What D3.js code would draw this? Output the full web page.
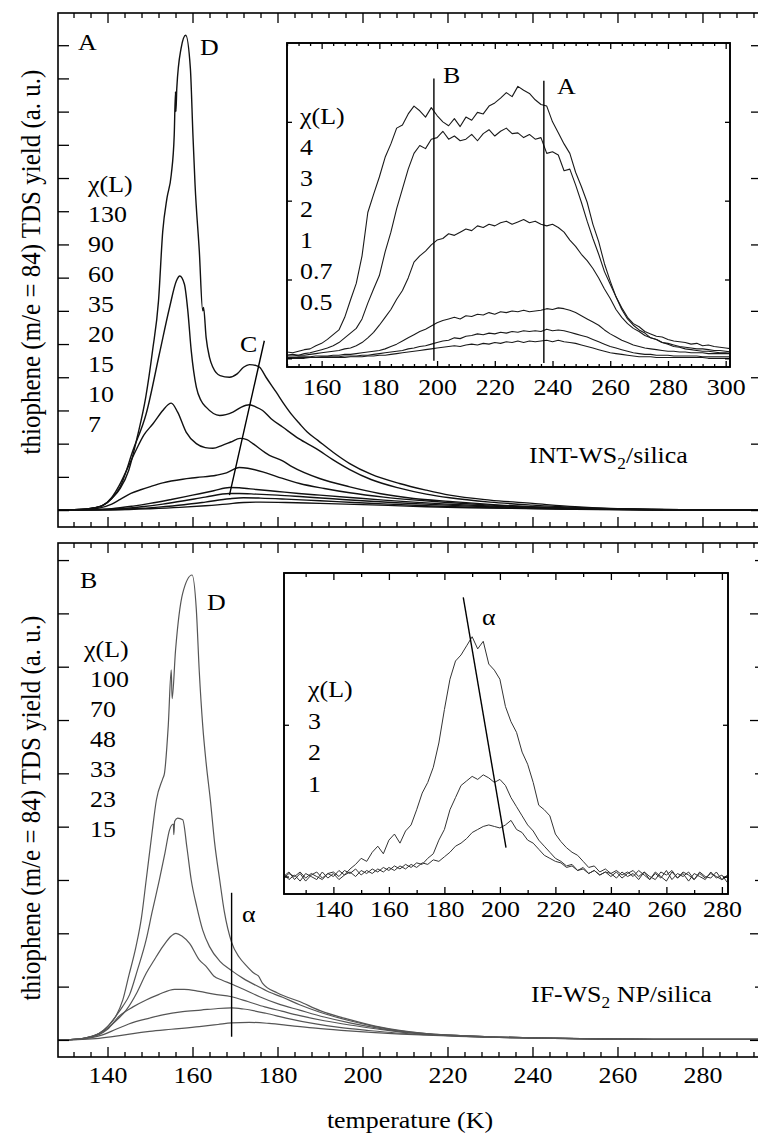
<!DOCTYPE html>
<meta charset="utf-8">
<script src="https://d3js.org/d3.v7.min.js"></script>
<style>body{margin:0;background:#fff}</style>
<div id="chart"></div>
<script>

// ---- data: main panel A (INT-WS2/silica), [temperature K, yield in tick units]
var expA = ["130", "90", "60", "35", "20", "15", "10", "7"];
var a130 = [[128.3,0],[132,0.01],[136,0.05],[139,0.15],[141,0.35],[143,0.65],[145,1.2],[147,2.2],[149,3.4],[150.6,4.8],[152,6.3],[153,8.4],[154,9.4],[155,10.1],[155.7,11.3],[156,12.6],[156.1,12.0],[156.3,12.7],[157.3,13.9],[158.4,14.3],[159.5,13.3],[160.1,11.3],[160.6,9.8],[161.6,7.8],[162.4,6.0],[162.6,6.1],[163.2,5.2],[164,4.6],[164.8,4.3],[166.5,4.05],[168.7,4.0],[170.5,4.1],[172,4.3],[173.4,4.38],[175,4.35],[175.8,4.3],[177.3,4.0],[179.7,3.55],[181.5,3.2],[183.5,2.85],[185.2,2.6],[187,2.35],[189.5,2.1],[193,1.75],[197,1.4],[202,1.08],[208.7,0.8],[215,0.6],[220.5,0.45],[230,0.3],[240,0.2],[250,0.1],[260,0.04],[275,0.01],[293.3,0.01]];
var a90 = [[128.3,0],[132,0.01],[136,0.05],[139,0.15],[141,0.35],[143,0.7],[146,1.8],[149.1,2.9],[152.2,4.7],[154.6,6.1],[156.2,6.9],[157,7.05],[158.1,6.8],[158.9,6.0],[159.7,4.8],[160.9,3.7],[162,3.3],[163.2,3.1],[166.4,2.85],[169.5,2.95],[171.5,3.1],[173.4,3.17],[175,3.1],[176.5,3.0],[178.5,2.75],[181.2,2.5],[185,2.15],[189.1,1.85],[193,1.52],[197,1.22],[202,0.92],[208.7,0.66],[215,0.48],[220.5,0.37],[230,0.24],[240,0.15],[250,0.08],[260,0.035],[275,0.01],[293.3,0.01]];
var a60 = [[128.3,0],[132,0.01],[136,0.05],[139,0.15],[141,0.38],[142.8,0.75],[144.5,1.2],[146.7,1.8],[148.5,2.25],[150.7,2.6],[153,3.0],[154.3,3.18],[155,3.22],[156.5,2.95],[158.5,2.35],[160.9,2.0],[163,1.88],[164.8,1.86],[167,1.95],[169,2.05],[171.2,2.16],[172.8,2.12],[174.2,2.0],[178.1,1.65],[181.2,1.48],[183.5,1.3],[189.9,0.95],[197,0.7],[204,0.5],[212,0.35],[220.5,0.26],[230,0.17],[240,0.1],[250,0.06],[260,0.03],[275,0.01],[293.3,0.01]];
var a35 = [[128.3,0],[134,0.01],[138,0.06],[141,0.18],[143,0.32],[145.5,0.5],[148,0.62],[149.9,0.7],[153,0.82],[157.7,0.93],[161,0.98],[165.6,1.05],[168,1.12],[171,1.28],[173,1.26],[177.3,1.12],[181,0.96],[185.2,0.8],[191,0.65],[197,0.52],[205,0.39],[212.6,0.3],[220,0.23],[230,0.15],[240,0.09],[250,0.05],[260,0.03],[275,0.01],[293.3,0.01]];
var a20 = [[128.3,0],[136,0.01],[141,0.04],[146,0.12],[150,0.2],[155,0.32],[160,0.45],[165,0.58],[168.7,0.68],[171,0.67],[175,0.62],[180,0.56],[185,0.5],[190,0.45],[197,0.38],[205,0.3],[212,0.24],[220,0.18],[230,0.12],[240,0.07],[250,0.04],[260,0.02],[275,0.01],[293.3,0.01]];
var a15 = [[128.3,0],[138,0.01],[143,0.04],[148,0.1],[153,0.18],[158,0.28],[163,0.39],[168.7,0.5],[171,0.5],[175,0.48],[180,0.45],[186,0.4],[193,0.34],[200,0.28],[208,0.22],[216,0.17],[225,0.12],[235,0.08],[245,0.05],[255,0.03],[270,0.01],[293.3,0.01]];
var a10 = [[128.3,0],[140,0.01],[146,0.04],[152,0.09],[158,0.16],[163,0.24],[168.7,0.34],[172,0.37],[176,0.36],[182,0.33],[190,0.28],[198,0.23],[206,0.18],[215,0.13],[225,0.09],[235,0.06],[245,0.04],[255,0.02],[270,0.01],[293.3,0.01]];
var a7 = [[128.3,0],[142,0.01],[150,0.04],[157,0.08],[163,0.13],[168,0.18],[172,0.23],[176,0.24],[182,0.23],[190,0.2],[198,0.17],[206,0.14],[215,0.1],[225,0.07],[235,0.05],[245,0.03],[258,0.015],[275,0.01],[293.3,0.01]];
var lineC = [[168.7,0.45],[176.9,5.1]];

// ---- data: main panel B (IF-WS2 NP/silica)
var expB = ["100", "70", "48", "33", "23", "15"];
var b100 = [[128.3,0],[132,0.01],[135,0.04],[138,0.12],[140,0.25],[142,0.45],[143.6,0.75],[145,1.2],[146.7,1.75],[148,2.3],[149.1,3.0],[150.5,3.9],[151.5,4.5],[153,4.9],[153.4,5.0],[154.3,5.9],[155,6.94],[155.2,6.4],[156,7.3],[157.7,8.38],[159.9,8.72],[160.9,8.07],[161.6,6.9],[162.4,5.9],[163.2,5.2],[164.2,4.5],[165.2,3.7],[166.4,3.0],[167.5,2.4],[169.2,1.83],[171,1.55],[172.6,1.4],[174.5,1.25],[175.5,1.2],[176.5,1.06],[180,0.88],[185.2,0.72],[190,0.55],[197,0.38],[203,0.26],[208.7,0.18],[215,0.12],[220.5,0.09],[230,0.06],[240,0.04],[255,0.02],[270,0.01],[293.3,0.01]];
var b70 = [[128.3,0],[132,0.01],[135,0.04],[138,0.12],[140,0.25],[142,0.45],[143.5,0.62],[145.2,0.85],[147,1.3],[149.1,1.88],[150.5,2.4],[152.2,3.0],[153.5,3.5],[154.6,3.94],[155.5,4.05],[155.6,3.85],[155.8,4.1],[156.5,4.16],[157.7,4.13],[158.7,3.6],[159.7,3.0],[161,2.5],[162.4,2.06],[164,1.75],[166.4,1.48],[169.2,1.3],[172,1.15],[175,1.02],[178,0.9],[181.2,0.8],[185.2,0.66],[190,0.52],[197,0.36],[203,0.25],[208.7,0.17],[215,0.12],[220.5,0.09],[230,0.06],[240,0.04],[255,0.02],[270,0.01],[293.3,0.01]];
var b48 = [[128.3,0],[132,0.01],[135,0.04],[138,0.12],[140,0.22],[142,0.36],[144.4,0.56],[147,0.9],[149.1,1.25],[151,1.5],[153,1.75],[155,1.95],[156.1,2.0],[157.5,1.95],[159.3,1.81],[161.6,1.5],[163.2,1.38],[165,1.2],[167,1.12],[169.2,1.05],[172,0.95],[175.8,0.81],[180,0.68],[185.2,0.56],[191,0.43],[197,0.32],[203,0.23],[208.7,0.16],[215,0.11],[220.5,0.09],[230,0.06],[240,0.04],[255,0.02],[270,0.01],[293.3,0.01]];
var b33 = [[128.3,0],[132,0.01],[135,0.04],[138,0.1],[140,0.2],[142.8,0.45],[146,0.62],[149.1,0.75],[152,0.85],[155.8,0.95],[158,0.95],[161.6,0.91],[165,0.86],[169.2,0.81],[173,0.72],[177,0.62],[181,0.54],[185,0.46],[191,0.36],[197,0.28],[203,0.21],[208.7,0.15],[215,0.11],[220.5,0.08],[230,0.05],[240,0.035],[255,0.02],[270,0.01],[293.3,0.01]];
var b23 = [[128.3,0],[133,0.01],[136,0.04],[139,0.1],[142,0.2],[145,0.3],[149.9,0.41],[153,0.47],[157.7,0.53],[162,0.56],[166,0.59],[169.2,0.6],[172,0.58],[177.3,0.5],[182,0.41],[189,0.3],[195,0.23],[201,0.18],[208,0.13],[215,0.1],[220.5,0.08],[230,0.05],[240,0.035],[255,0.02],[270,0.01],[293.3,0.01]];
var b15 = [[128.3,0],[134,0.01],[138,0.03],[142,0.07],[146,0.12],[149.9,0.16],[155,0.2],[161.6,0.25],[166,0.29],[169.2,0.32],[173.4,0.33],[178,0.31],[183,0.27],[189,0.22],[195,0.18],[202,0.14],[209,0.11],[215,0.09],[222,0.07],[230,0.05],[240,0.035],[255,0.02],[270,0.01],[293.3,0.01]];
var lineAlpha = [[169.2,2.76],[169.2,0.06]];

// ---- data: inset of panel A
var expIA = ["4", "3", "2", "1", "0.7", "0.5"];
var insetAT = [148,150,152,154,156,158,160,162,164,166,168,170,172,174,176,178,180,182,184,186,188,190,192,194,196,198,200,202,204,206,208,210,212,214,216,218,220,222,224,226,228,230,232,234,236,238,240,242,244,246,248,250,252,254,256,258,260,262,264,266,268,270,272,274,276,278,280,282,284,286,288,290,292,294,296,298,300,302];
var ia4 = [0.08,0.07,0.09,0.11,0.12,0.16,0.19,0.24,0.30,0.36, 0.52,0.74,0.95,1.30,1.85,2.08,2.30,2.55,2.72,2.92, 2.96,3.10,3.20,3.14,3.06,3.18,3.08,3.00,2.95,3.04, 2.94,3.06,3.02,3.12,3.10,3.20,3.24,3.30,3.37,3.32, 3.45,3.40,3.36,3.28,3.22,3.20,3.00,2.86,2.72,2.60, 2.36,2.18,1.98,1.70,1.48,1.20,0.98,0.78,0.64,0.52, 0.44,0.40,0.34,0.31,0.28,0.27,0.24,0.22,0.21,0.20, 0.18,0.19,0.16,0.17,0.15,0.14,0.13,0.12];
var ia3 = [0.04,0.05,0.04,0.06,0.07,0.09,0.11,0.13,0.16,0.20, 0.26,0.32,0.38,0.50,0.70,0.88,1.05,1.35,1.60,1.90, 2.15,2.40,2.60,2.70,2.66,2.78,2.80,2.88,2.78,2.82, 2.76,2.78,2.84,2.76,2.85,2.90,2.82,2.88,2.92,2.85, 2.86,2.80,2.84,2.78,2.80,2.60,2.62,2.58,2.38,2.40, 2.20,1.98,1.74,1.52,1.32,1.10,0.94,0.78,0.62,0.50, 0.42,0.36,0.32,0.26,0.24,0.20,0.18,0.15,0.14,0.12, 0.11,0.10,0.09,0.09,0.08,0.07,0.07,0.06];
var ia2 = [0.03,0.03,0.04,0.04,0.05,0.06,0.07,0.08,0.09,0.10, 0.12,0.13,0.16,0.20,0.26,0.33,0.42,0.52,0.62,0.75, 0.86,1.02,1.22,1.30,1.36,1.44,1.50,1.52,1.58,1.56, 1.60,1.64,1.62,1.68,1.66,1.70,1.68,1.72,1.74,1.70, 1.73,1.76,1.72,1.74,1.70,1.68,1.70,1.66,1.60,1.50, 1.42,1.32,1.24,1.14,1.02,0.88,0.76,0.62,0.52,0.44, 0.38,0.34,0.29,0.26,0.24,0.20,0.19,0.17,0.15,0.14, 0.13,0.12,0.12,0.11,0.10,0.10,0.09,0.08];
var ia1 = [0.01,0.01,0.02,0.02,0.02,0.03,0.03,0.03,0.04,0.04, 0.05,0.05,0.06,0.07,0.08,0.09,0.10,0.12,0.15,0.18, 0.22,0.26,0.30,0.34,0.37,0.41,0.45,0.48,0.50,0.52, 0.50,0.54,0.53,0.56,0.55,0.58,0.56,0.59,0.58,0.60, 0.59,0.61,0.59,0.60,0.61,0.63,0.62,0.64,0.63,0.61, 0.58,0.54,0.50,0.46,0.42,0.36,0.31,0.27,0.23,0.20, 0.17,0.15,0.13,0.12,0.11,0.10,0.09,0.09,0.08,0.08, 0.07,0.07,0.07,0.06,0.06,0.06,0.06,0.06];
var ia07 = [0.01,0.01,0.01,0.01,0.01,0.01,0.02,0.02,0.02,0.02, 0.03,0.03,0.03,0.04,0.04,0.05,0.06,0.07,0.08,0.09, 0.10,0.12,0.13,0.15,0.16,0.18,0.20,0.22,0.23,0.26, 0.25,0.28,0.29,0.31,0.30,0.32,0.31,0.33,0.32,0.34, 0.33,0.35,0.34,0.35,0.34,0.37,0.35,0.36,0.35,0.33, 0.31,0.29,0.27,0.24,0.21,0.18,0.15,0.13,0.11,0.09, 0.07,0.06,0.05,0.05,0.04,0.04,0.04,0.03,0.03,0.03, 0.03,0.03,0.02,0.02,0.02,0.02,0.02,0.02];
var ia05 = [0.00,0.00,0.00,0.00,0.01,0.01,0.01,0.01,0.01,0.01, 0.01,0.02,0.02,0.02,0.03,0.03,0.04,0.04,0.05,0.06, 0.07,0.08,0.09,0.10,0.11,0.12,0.13,0.14,0.15,0.16, 0.15,0.17,0.18,0.17,0.19,0.18,0.20,0.19,0.21,0.20, 0.22,0.20,0.22,0.21,0.22,0.23,0.21,0.23,0.21,0.20, 0.19,0.17,0.15,0.13,0.11,0.09,0.07,0.06,0.05,0.04, 0.03,0.02,0.02,0.02,0.01,0.01,0.01,0.01,0.01,0.01, 0.01,0.01,0.01,0.00,0.00,0.00,0.00,0.00];
var lineIAB = [[198.9,3.55],[198.9,-0.03]];
var lineIAA = [[237,3.52],[237,-0.06]];

// ---- data: inset of panel B
var expIB = ["3", "2", "1"];
var insetBT = [122,124,126,128,130,132,134,136,138,140,142,144,146,148,150,152,154,156,158,160,162,164,166,168,170,172,174,176,178,180,182,184,186,188,190,192,194,196,198,200,202,204,206,208,210,212,214,216,218,220,222,224,226,228,230,232,234,236,238,240,242,244,246,248,250,252,254,256,258,260,262,264,266,268,270,272,274,276,278,280,282];
var ib3 = [0.00,0.03,-0.02,0.02,-0.03,0.01,0.03,-0.01,0.02,0.00, 0.04,0.01,0.05,0.08,0.12,0.10,0.16,0.20,0.15,0.24, 0.28,0.22,0.30,0.34,0.44,0.55,0.62,0.72,0.88,1.10, 1.30,1.42,1.46,1.52,1.58,1.50,1.55,1.40,1.36,1.30, 1.12,1.02,0.95,0.82,0.74,0.62,0.47,0.44,0.40,0.28, 0.23,0.19,0.16,0.14,0.10,0.06,0.07,0.03,0.05,0.02, 0.04,0.01,0.03,0.00,0.04,0.01,-0.02,0.03,0.00,-0.03, 0.03,-0.01,0.02,-0.03,0.02,0.00,-0.02,0.03,-0.01,0.01,-0.04];
var ib2 = [0.02,-0.02,0.01,-0.03,0.02,0.00,-0.02,0.03,-0.01,0.02, -0.02,0.01,0.03,0.00,0.04,0.02,0.05,0.03,0.06,0.04, 0.07,0.05,0.08,0.06,0.09,0.08,0.12,0.15,0.24,0.31, 0.44,0.52,0.60,0.63,0.66,0.64,0.67,0.65,0.62,0.64, 0.60,0.52,0.46,0.40,0.34,0.30,0.24,0.20,0.16,0.12, 0.10,0.07,0.08,0.04,0.06,0.02,0.04,0.01,0.03,0.00, 0.03,-0.01,0.02,0.04,0.00,0.03,-0.02,0.02,-0.01,0.04, -0.02,0.02,0.00,0.03,-0.02,0.02,-0.01,0.02,0.00,-0.02,0.01];
var ib1 = [-0.01,0.02,0.00,0.03,-0.01,0.02,0.00,-0.02,0.02,0.03, 0.00,0.04,0.02,0.05,0.01,0.04,0.02,0.05,0.03,0.06, 0.04,0.07,0.05,0.08,0.06,0.09,0.08,0.11,0.10,0.13, 0.16,0.20,0.22,0.25,0.29,0.31,0.33,0.34,0.33,0.32, 0.34,0.37,0.31,0.29,0.24,0.22,0.18,0.14,0.12,0.10, 0.09,0.06,0.07,0.04,0.05,0.02,0.04,0.01,0.03,0.02, -0.01,0.03,0.00,0.02,-0.02,0.03,0.00,-0.02,0.03,0.01, 0.04,-0.01,0.03,0.01,-0.02,0.03,0.00,-0.01,0.03,-0.02,0.00];
var lineIBalpha = [[186.8,1.84],[202.2,0.19]];

// tick labels
var mainTicks = [140, 160, 180, 200, 220, 240, 260, 280];
var insetATicks = [160, 180, 200, 220, 240, 260, 280, 300];
var insetBTicks = [140, 160, 180, 200, 220, 240, 260, 280];

// ---- setup
var W = 758, H = 1133;
var serif = "'Liberation Serif', 'Times New Roman', serif";
var SX = 1.08;   // the picture is slightly wider than tall

var svg = d3.select("#chart").append("svg")
    .attr("width", W).attr("height", H);
svg.append("rect").attr("width", W).attr("height", H).attr("fill", "#fff");

var x = d3.scaleLinear().domain([128.35, 293.3]).range([58, 759]);
var yA = d3.scaleLinear().domain([-0.51, 14.97]).range([527, 13]);
var yB = d3.scaleLinear().domain([-0.32, 9.32]).range([1057, 543]);
var xIA = d3.scaleLinear().domain([148, 301.5]).range([287, 730]);
var yIA = d3.scaleLinear().domain([-0.11, 4.0]).range([367, 43]);
var xIB = d3.scaleLinear().domain([122.2, 282.2]).range([284, 728]);
var yIB = d3.scaleLinear().domain([-0.115, 2.0]).range([894, 573]);

function clip(id, xs, ys) {
  svg.append("clipPath").attr("id", id).append("rect")
    .attr("x", xs.range()[0]).attr("y", ys.range()[1])
    .attr("width", xs.range()[1] - xs.range()[0])
    .attr("height", ys.range()[0] - ys.range()[1]);
}
clip("cA", x, yA); clip("cB", x, yB); clip("cIA", xIA, yIA); clip("cIB", xIB, yIB);

function drawCurves(list, xs, ys, clipId, color, width, curve) {
  var line = d3.line().x(function(d) { return xs(d[0]); })
                      .y(function(d) { return ys(d[1]); })
                      .curve(curve || d3.curveLinear);
  svg.append("g").attr("clip-path", "url(#" + clipId + ")")
    .selectAll("path").data(list).enter().append("path")
      .attr("d", line)
      .attr("fill", "none")
      .attr("stroke", color)
      .attr("stroke-width", width)
      .attr("stroke-linejoin", "round");
}

function frame(xs, ys, fill) {
  svg.append("rect")
    .attr("x", xs.range()[0]).attr("y", ys.range()[1])
    .attr("width", xs.range()[1] - xs.range()[0])
    .attr("height", ys.range()[0] - ys.range()[1])
    .attr("fill", fill || "none")
    .attr("stroke", "#000").attr("stroke-width", 1.6);
}

function edgeTicks(axisFn, scale, pos, vals, len, isX) {
  var g = svg.append("g")
    .attr("transform", isX ? "translate(0," + pos + ")" : "translate(" + pos + ",0)")
    .call(axisFn(scale).tickValues(vals).tickSize(-len).tickFormat(""));
  g.select(".domain").remove();
  g.selectAll("line").attr("stroke", "#000").attr("stroke-width", 1.3);
}

function tickLabels(scale, pos, vals, pad, size) {
  var g = svg.append("g").attr("transform", "translate(0," + pos + ")")
    .call(d3.axisBottom(scale).tickValues(vals).tickSize(0).tickPadding(pad).tickFormat(d3.format("d")));
  g.select(".domain").remove();
  g.attr("font-family", serif).attr("font-size", size);
  g.selectAll("text").attr("fill", "#000").attr("transform", "scale(" + SX + ",1)");
}

function label(x0, y0, str, size) {
  return svg.append("text")
    .attr("transform", "translate(" + x0 + "," + y0 + ") scale(" + SX + ",1)")
    .attr("font-family", serif)
    .attr("font-size", size || 24)
    .attr("fill", "#000")
    .text(str);
}

function notMajor(step) { return function(v) { return v % step !== 0; }; }

// ---- panel A
drawCurves([a7, a10, a15, a20, a35, a60, a90, a130], x, yA, "cA", "#111", 1.4, d3.curveMonotoneX);
drawCurves([lineC], x, yA, "cA", "#000", 1.4);
frame(x, yA);
var minorMain = d3.range(132, 293, 4).filter(notMajor(20));
edgeTicks(d3.axisBottom, x, 527, mainTicks, 10, true);
edgeTicks(d3.axisBottom, x, 527, minorMain, 5, true);
edgeTicks(d3.axisTop, x, 13, mainTicks, 10, true);
edgeTicks(d3.axisTop, x, 13, minorMain, 5, true);
edgeTicks(d3.axisLeft, yA, 58, d3.range(0, 15), 11, false);
edgeTicks(d3.axisRight, yA, 759, d3.range(0, 15, 2), 8, false);

label(78, 50, "A");
label(200, 55, "D");
label(240, 352, "C");
["\u03c7(L)"].concat(expA).forEach(function(s, i) { label(88, 192 + 30 * i, s); });
var tA = label(529, 463, "INT-WS");
tA.append("tspan").attr("font-size", 16).attr("dy", 6).text("2");
tA.append("tspan").attr("dy", -6).text("/silica");

// ---- inset A
frame(xIA, yIA, "#fff");
drawCurves([ia05, ia07, ia1, ia2, ia3, ia4].map(function(v) { return d3.zip(insetAT, v); }),
           xIA, yIA, "cIA", "#1a1a1a", 1.1);
drawCurves([lineIAB, lineIAA], xIA, yIA, "cIA", "#000", 1.4);
frame(xIA, yIA);
var minorIA = d3.range(148, 302, 4).filter(notMajor(20));
edgeTicks(d3.axisBottom, xIA, 367, insetATicks, 6, true);
edgeTicks(d3.axisBottom, xIA, 367, minorIA, 3, true);
edgeTicks(d3.axisTop, xIA, 43, insetATicks, 6, true);
edgeTicks(d3.axisTop, xIA, 43, minorIA, 3, true);
edgeTicks(d3.axisLeft, yIA, 287, [0, 1, 2, 3], 5, false);
edgeTicks(d3.axisRight, yIA, 730, [0, 1, 2, 3], 5, false);
tickLabels(xIA, 367, insetATicks, 11, 24);
label(443, 83, "B");
label(557, 94, "A");
["\u03c7(L)"].concat(expIA).forEach(function(s, i) { label(300, 124 + 31 * i, s); });

// ---- panel B
drawCurves([b15, b23, b33, b48, b70, b100], x, yB, "cB", "#555", 1.2, d3.curveMonotoneX);
drawCurves([lineAlpha], x, yB, "cB", "#000", 1.4);
frame(x, yB);
edgeTicks(d3.axisBottom, x, 1057, mainTicks, 10, true);
edgeTicks(d3.axisBottom, x, 1057, minorMain, 5, true);
edgeTicks(d3.axisTop, x, 543, mainTicks, 10, true);
edgeTicks(d3.axisTop, x, 543, minorMain, 5, true);
edgeTicks(d3.axisLeft, yB, 58, d3.range(0, 10), 11, false);
edgeTicks(d3.axisRight, yB, 759, d3.range(0, 10, 2), 9, false);
edgeTicks(d3.axisRight, yB, 759, d3.range(1, 10, 2), 4, false);
tickLabels(x, 1057, mainTicks, 9, 24);

label(80, 588, "B");
label(207, 610, "D");
label(242, 922, "\u03b1");
["\u03c7(L)"].concat(expB).forEach(function(s, i) { label(i === 0 ? 84 : 90, 657 + 30 * i, s); });
var tB = label(531, 1002, "IF-WS");
tB.append("tspan").attr("font-size", 16).attr("dy", 6).text("2");
tB.append("tspan").attr("dy", -6).text(" NP/silica");

// ---- inset B
frame(xIB, yIB, "#fff");
drawCurves([ib1, ib2, ib3].map(function(v) { return d3.zip(insetBT, v); }),
           xIB, yIB, "cIB", "#333", 1.0);
drawCurves([lineIBalpha], xIB, yIB, "cIB", "#000", 1.4);
frame(xIB, yIB);
var minorIB = [130, 150, 170, 190, 210, 230, 250, 270];
edgeTicks(d3.axisBottom, xIB, 894, insetBTicks, 7, true);
edgeTicks(d3.axisBottom, xIB, 894, minorIB, 4, true);
edgeTicks(d3.axisTop, xIB, 573, insetBTicks, 7, true);
edgeTicks(d3.axisTop, xIB, 573, minorIB, 4, true);
edgeTicks(d3.axisLeft, yIB, 284, [0, 1], 5, false);
edgeTicks(d3.axisRight, yIB, 728, [0, 1], 5, false);
tickLabels(xIB, 894, insetBTicks, 6, 24);
label(482, 625, "\u03b1");
["\u03c7(L)"].concat(expIB).forEach(function(s, i) { label(308, 697 + 31.5 * i, s); });

// ---- axis titles
var yTitle = "thiophene (m/e = 84) TDS yield (a. u.)";
[[40, 262], [40, 808]].forEach(function(p) {
  svg.append("text")
    .attr("transform", "translate(" + p[0] + "," + p[1] + ") rotate(-90) scale(1," + SX + ")")
    .attr("text-anchor", "middle")
    .attr("font-family", serif)
    .attr("font-size", 25)
    .text(yTitle);
});
label(410, 1128, "temperature (K)").attr("text-anchor", "middle");

</script>
